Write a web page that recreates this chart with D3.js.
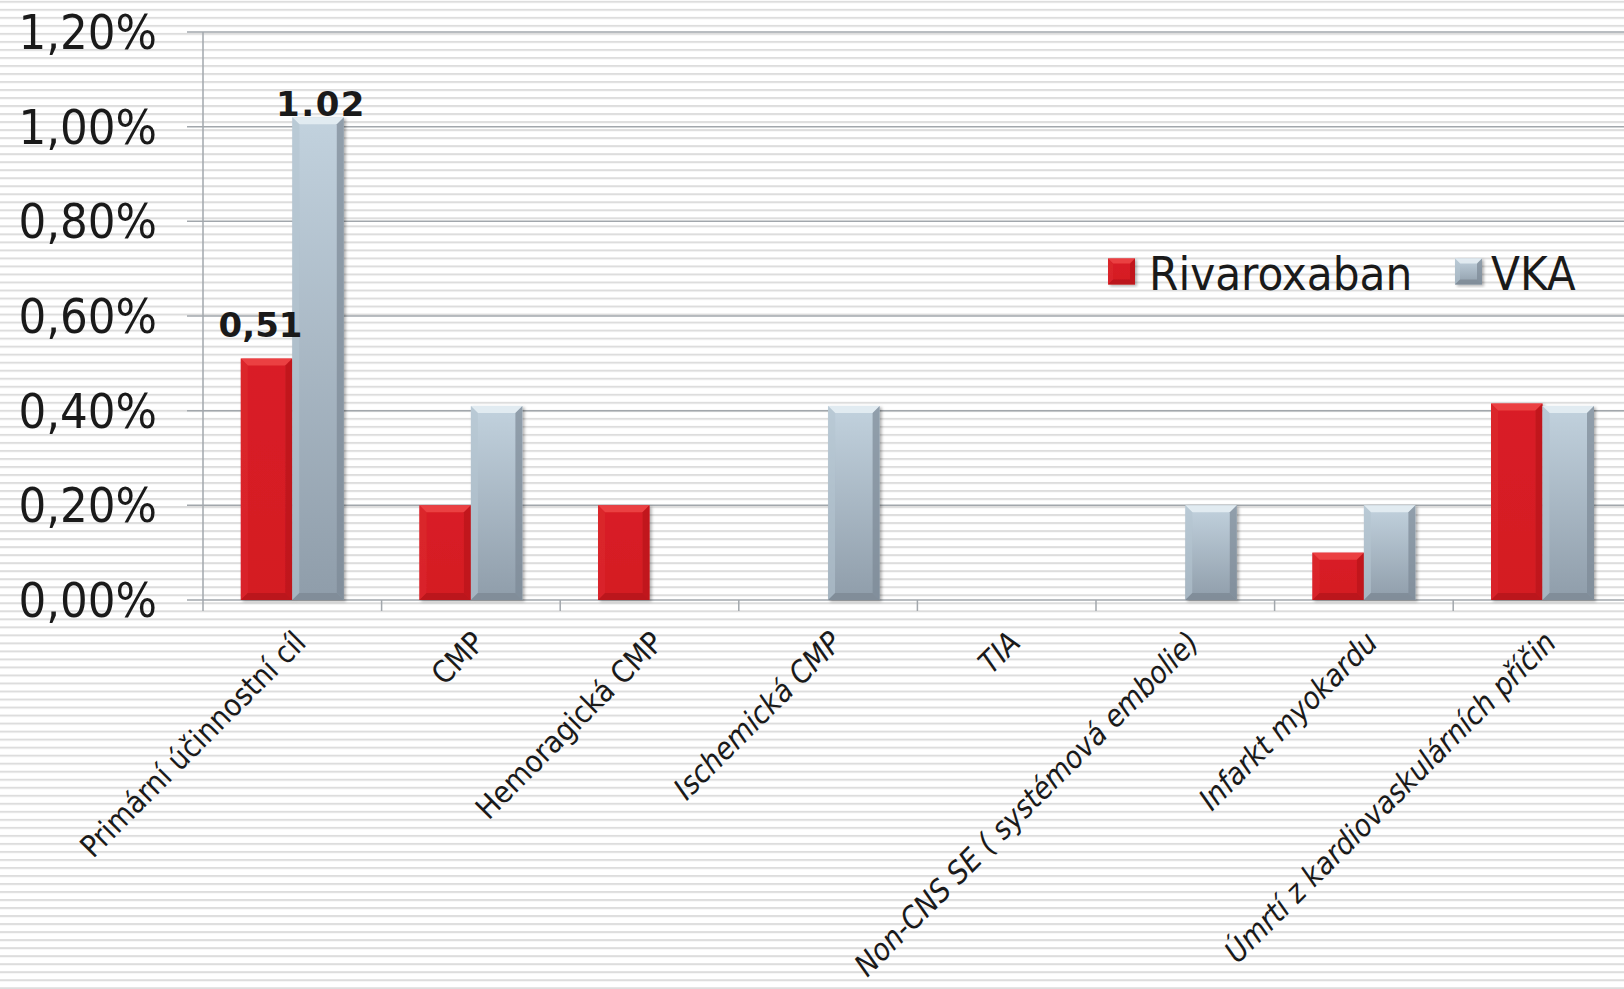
<!DOCTYPE html>
<html>
<head>
<meta charset="utf-8">
<script src="https://cdn.jsdelivr.net/npm/d3@7"></script>
<style>
  html, body { margin: 0; padding: 0; background: #ffffff; }
  svg { display: block; }
</style>
</head>
<body>
<svg id="chart" width="1624" height="989"></svg>
<script>
// ---------- data ----------
const categories = [
  "Primární účinnostní cíl",
  "CMP",
  "Hemoragická CMP",
  "Ischemická CMP",
  "TIA",
  "Non-CNS SE ( systémová embolie)",
  "Infarkt myokardu",
  "Úmrtí z kardiovaskulárních příčin"
];
const seriesNames = ["Rivaroxaban", "VKA"];
const rivaroxaban = [0.51, 0.20, 0.20, 0, 0, 0, 0.10, 0.415];
const vka         = [1.02, 0.41, 0, 0.41, 0, 0.20, 0.20, 0.41];
const yTicks      = [0, 0.2, 0.4, 0.6, 0.8, 1.0, 1.2];
const yTickLabels = ["0,00%", "0,20%", "0,40%", "0,60%", "0,80%", "1,00%", "1,20%"];
const dataLabels  = [
  { cat: 0, series: 0, text: "0,51" },
  { cat: 0, series: 1, text: "1.02" }
];
const italicFrom = 3;

// ---------- layout ----------
const W = 1624, H = 989;
const plotLeft = 203, plotTop = 32, plotBottom = 600;
const catWidth = 178.6;
const plotRight = plotLeft + catWidth * categories.length;
const FONT = "'DejaVu Sans Condensed', 'DejaVu Sans', sans-serif";

const svg = d3.select("#chart");
const defs = svg.append("defs");

// striped background
const pat = defs.append("pattern")
  .attr("id", "stripes").attr("patternUnits", "userSpaceOnUse")
  .attr("width", 8).attr("height", 8.02).attr("y", 0.8);
pat.append("rect").attr("width", 8).attr("height", 8.02).attr("fill", "#ffffff");
pat.append("rect").attr("y", 0).attr("width", 8).attr("height", 2).attr("fill", "#dddddd");
svg.append("rect").attr("width", W).attr("height", H).attr("fill", "url(#stripes)");

// gradients
const gV = defs.append("linearGradient").attr("id", "gVka")
  .attr("x1", 0).attr("y1", 0).attr("x2", 0).attr("y2", 1);
gV.append("stop").attr("offset", "0%").attr("stop-color", "#c2d2de");
gV.append("stop").attr("offset", "100%").attr("stop-color", "#8f9daa");
const gR = defs.append("linearGradient").attr("id", "gRiv")
  .attr("x1", 0).attr("y1", 0).attr("x2", 0).attr("y2", 1);
gR.append("stop").attr("offset", "0%").attr("stop-color", "#d91f26");
gR.append("stop").attr("offset", "100%").attr("stop-color", "#d41c23");

const shadow = defs.append("filter").attr("id", "shadow")
  .attr("x", "-20%").attr("y", "-5%").attr("width", "140%").attr("height", "115%");
shadow.append("feDropShadow").attr("dx", 2).attr("dy", 1.5)
  .attr("stdDeviation", 1.8).attr("flood-color", "#000").attr("flood-opacity", 0.3);

const styles = [
  { fill: "url(#gRiv)", top: "#ec4246", left: "#dc2a30", right: "#b8171d", bottom: "#b0151b" },
  { fill: "url(#gVka)", top: "#e4edf3", left: "#b4c4d0", right: "#7c8995", bottom: "#7a8691" }
];

// ---------- scales ----------
const x0 = d3.scaleBand().domain(d3.range(categories.length))
  .range([plotLeft, plotRight]).paddingInner(0).paddingOuter(0);
const groupPad = 37.8;
const x1 = d3.scaleBand().domain([0, 1])
  .range([groupPad, x0.bandwidth() - groupPad]).padding(0);
const y = d3.scaleLinear().domain([0, 1.2]).range([plotBottom, plotTop]);

// ---------- gridlines ----------
svg.append("g").selectAll("line").data(yTicks).join("line")
  .attr("x1", 187).attr("x2", W)
  .attr("y1", d => y(d)).attr("y2", d => y(d))
  .attr("stroke", "#a2a7ac").attr("stroke-width", 1.5);

// vertical axis line
svg.append("line")
  .attr("x1", plotLeft).attr("x2", plotLeft)
  .attr("y1", plotTop).attr("y2", plotBottom + 11)
  .attr("stroke", "#a2a7ac").attr("stroke-width", 1.5);

// category ticks
svg.append("g").selectAll("line").data(d3.range(1, categories.length + 1)).join("line")
  .attr("x1", i => plotLeft + i * x0.bandwidth())
  .attr("x2", i => plotLeft + i * x0.bandwidth())
  .attr("y1", plotBottom).attr("y2", plotBottom + 11)
  .attr("stroke", "#a2a7ac").attr("stroke-width", 1.5);

// y tick labels
svg.append("g").selectAll("text").data(yTicks).join("text")
  .attr("x", 157).attr("y", d => y(d))
  .attr("text-anchor", "end").attr("dominant-baseline", "central")
  .attr("font-family", FONT).attr("font-size", 48.5).attr("fill", "#1a1a1a")
  .text((d, i) => yTickLabels[i]);

// ---------- bars ----------
function bevelBar(g, x, yTop, w, h, st, b0) {
  if (h <= 0) return;
  const b = Math.min(b0, h / 2, w / 2);
  const yb = yTop + h;
  const grp = g.append("g").attr("filter", "url(#shadow)");
  grp.append("rect").attr("x", x).attr("y", yTop).attr("width", w).attr("height", h).attr("fill", st.fill);
  const poly = (pts, c, op) => grp.append("polygon")
    .attr("points", pts.map(p => p.join(",")).join(" ")).attr("fill", c).attr("opacity", op);
  poly([[x, yTop], [x + w, yTop], [x + w - b, yTop + b], [x + b, yTop + b]], st.top, 0.9);
  poly([[x, yTop], [x + b, yTop + b], [x + b, yb - b], [x, yb]], st.left, 0.6);
  poly([[x + w, yTop], [x + w, yb], [x + w - b, yb - b], [x + w - b, yTop + b]], st.right, 0.7);
  poly([[x, yb], [x + w, yb], [x + w - b, yb - b], [x + b, yb - b]], st.bottom, 0.7);
}

const barsG = svg.append("g");
const seriesValues = [rivaroxaban, vka];
categories.forEach((c, i) => {
  seriesValues.forEach((vals, s) => {
    const v = vals[i];
    const bx = x0(i) + x1(s);
    bevelBar(barsG, bx, y(v), x1.bandwidth(), y(0) - y(v), styles[s], 7);
  });
});

// data labels
const labelOffsets = [22, 1];
svg.append("g").selectAll("text").data(dataLabels).join("text")
  .attr("x", d => x0(d.cat) + x1(d.series) + x1.bandwidth() / 2 + (d.series === 0 ? -6 : 3))
  .attr("y", d => y(seriesValues[d.series][d.cat]) - labelOffsets[d.series])
  .attr("text-anchor", "middle")
  .attr("font-family", "'DejaVu Sans', sans-serif").attr("font-weight", "bold")
  .attr("font-size", 34).attr("fill", "#1a1a1a")
  .attr("letter-spacing", d => d.series === 1 ? 1.5 : 0)
  .text(d => d.text);

// category labels
svg.append("g").selectAll("text").data(categories).join("text")
  .attr("transform", (d, i) => `translate(${x0(i) + x0.bandwidth() / 2 + 8},${637}) rotate(-45)`)
  .attr("text-anchor", "end").attr("dominant-baseline", "central")
  .attr("font-family", FONT).attr("font-size", 30.5).attr("fill", "#1a1a1a")
  .attr("font-style", (d, i) => i >= italicFrom ? "italic" : "normal")
  .text(d => d);

// ---------- legend ----------
const legend = svg.append("g");
const legendItems = [
  { sq: 1108, tx: 1149 },
  { sq: 1455, tx: 1491 }
];
seriesNames.forEach((name, s) => {
  bevelBar(legend, legendItems[s].sq, 258.5, 27, 26, styles[s], 5);
  legend.append("text")
    .attr("x", legendItems[s].tx).attr("y", 290)
    .attr("font-family", FONT).attr("font-size", 47).attr("fill", "#1a1a1a")
    .text(name);
});
</script>
</body>
</html>
